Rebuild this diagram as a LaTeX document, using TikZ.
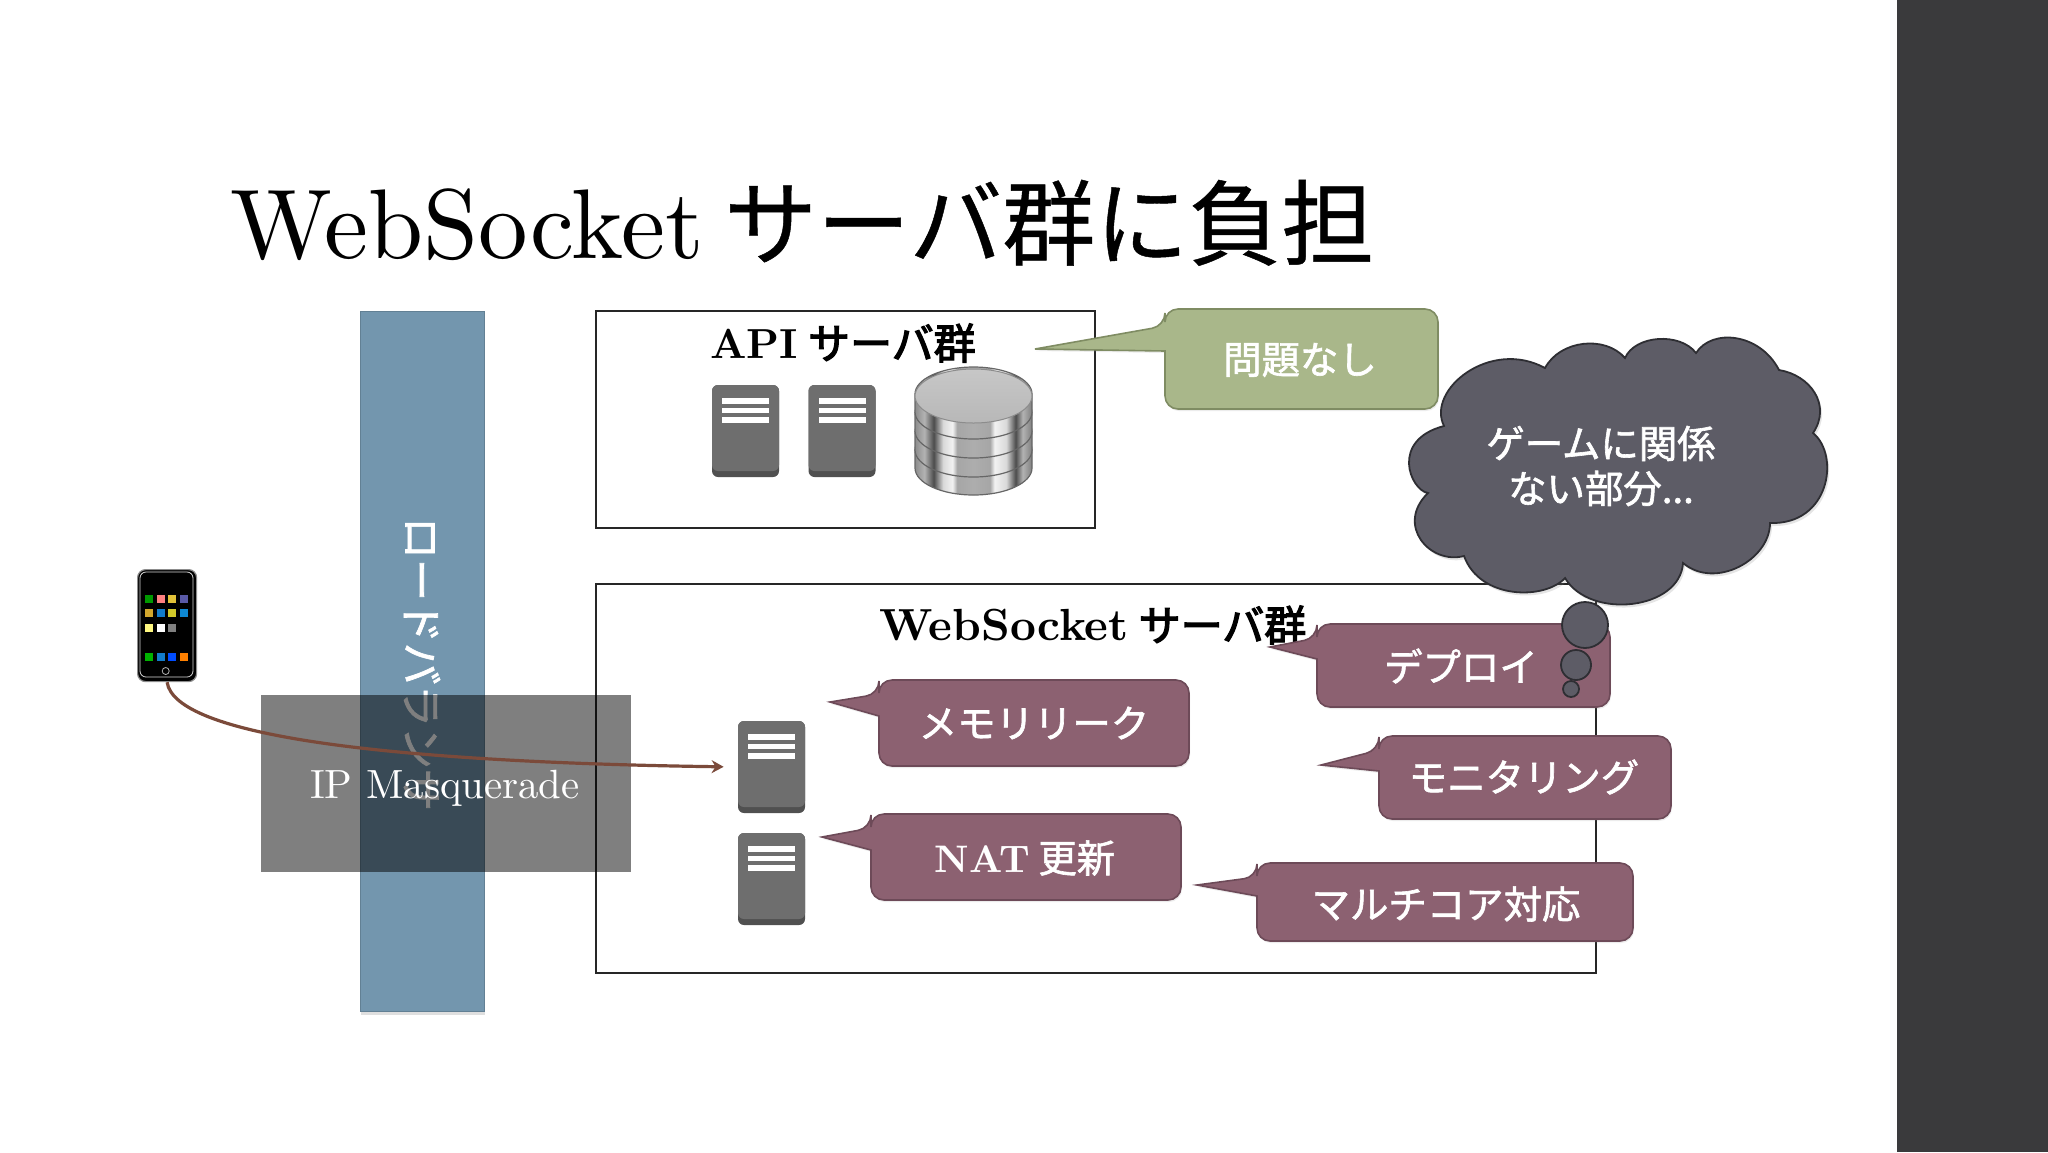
\documentclass[tikz,border=0pt]{standalone}
\usepackage{fontspec}
\usetikzlibrary{arrows.meta,shadows,calc}
\newfontfamily\jpt{Noto Sans CJK JP}[FakeBold=0.5]
\newfontfamily\jp{Noto Sans CJK JP}[FakeBold=1.6]
\newfontfamily\jph{Noto Sans CJK JP}[FakeBold=3]
\newfontfamily\lmten{lmroman10-regular.otf}
\newfontfamily\lmbold{lmroman10-bold.otf}

\definecolor{band}{HTML}{3A3A3C}
\definecolor{lbblue}{HTML}{7396AE}
\definecolor{plum}{HTML}{8C6171}
\definecolor{plumline}{HTML}{6D4A58}
\definecolor{sage}{HTML}{A9B78A}
\definecolor{sageline}{HTML}{7F8C63}
\definecolor{cloudfill}{HTML}{5D5C66}
\definecolor{cloudline}{HTML}{2E2E33}
\definecolor{srvtop}{HTML}{6E6E6E}
\definecolor{srvbot}{HTML}{505050}
\definecolor{wire}{HTML}{7B4A3A}

\pgfdeclarehorizontalshading{dbside}{100bp}{
  rgb(0bp)=(0.55,0.55,0.55);
  rgb(25bp)=(0.55,0.55,0.55);
  rgb(29bp)=(0.70,0.70,0.70);
  rgb(33bp)=(0.30,0.30,0.30);
  rgb(37bp)=(0.85,0.85,0.85);
  rgb(41bp)=(0.95,0.95,0.95);
  rgb(43bp)=(0.65,0.65,0.65);
  rgb(50bp)=(0.68,0.68,0.68);
  rgb(57bp)=(0.65,0.65,0.65);
  rgb(59bp)=(0.95,0.95,0.95);
  rgb(64bp)=(0.85,0.85,0.85);
  rgb(68bp)=(0.30,0.30,0.30);
  rgb(71bp)=(0.70,0.70,0.70);
  rgb(75bp)=(0.50,0.50,0.50);
  rgb(100bp)=(0.50,0.50,0.50)}

% server icon: name, centre x, centre y
\newcommand{\srvicon}[3]{
  \node[srv] (#1) at (#2,#3) {};
  \begin{scope}[shift={(#2,#3)}]
    \fill[srvtop,rounded corners=3pt] (-33.5,-46) rectangle (33.5,40);
    \fill[white] (-23.5,-33) rectangle (23.5,-27);
    \fill[white] (-23.5,-23) rectangle (23.5,-18);
    \fill[white] (-23.5,-14) rectangle (23.5,-8);
  \end{scope}
}

\begin{document}
\begin{tikzpicture}[x=0.5pt,y=-0.5pt,
    every node/.style={inner sep=0pt},
    srv/.style={rectangle,fill=srvbot,rounded corners=3pt,minimum width=33.5pt,minimum height=46pt},
    box/.style={rectangle,draw=black!85,line width=0.9pt,fill=white,anchor=north west},
    head/.style={font=\fontsize{21}{25}\selectfont\lmbold,black},
    label/.style={font=\fontsize{19.2}{23}\selectfont\jp,white,align=center},
    call/.style={fill=plum,draw=plumline,line width=0.8pt,drop shadow={shadow xshift=0.5pt,shadow yshift=-1pt,opacity=0.15}},
    callg/.style={fill=sage,draw=sageline,line width=0.8pt,drop shadow={shadow xshift=0.5pt,shadow yshift=-1pt,opacity=0.15}},
    puff/.style={circle,fill=cloudfill,draw=cloudline,line width=0.9pt}]

  \useasboundingbox (0,0) rectangle (2048,1152);
  \fill[white] (0,0) rectangle (2048,1152);
  \fill[band] (1897,0) rectangle (2048,1152);

  % title
  \node[anchor=base west,font=\fontsize{49.5}{56}\selectfont\lmten] (title) at (230,258)
    {WebSocket\hspace{10.4pt}{\fontsize{46.5}{56}\selectfont\jpt サーバ群に負担}};

  % load balancer
  \node[rectangle,fill=lbblue,draw=lbblue!85!black,line width=0.5pt,anchor=north west,
    minimum width=62pt,minimum height=350pt,
    drop shadow={shadow xshift=0pt,shadow yshift=-1.5pt,opacity=0.25}] (lb) at (360,311) {};
  \node[font=\fontsize{21}{25}\selectfont\jp,white,rotate=-90] (lbtext) at (422,664) {ロードバランサ};

  % API servers
  \node[box,minimum width=249.5pt,minimum height=108.5pt] (api) at (595,310) {};
  \node[head] (apitext) at (843,343) {API\hspace{5pt}{\jph サーバ群}};
  \srvicon{a1}{745.5}{431}
  \srvicon{a2}{842}{431}

  % database
  \foreach \b in {495,477,458,439}{
    \path[shading=dbside,draw=black!60,line width=0.6pt]
      (915,\b-45) -- (915,\b-27) arc[start angle=180,end angle=0,x radius=58.5,y radius=27]
      -- (1032,\b-45) arc[start angle=0,end angle=-180,x radius=58.5,y radius=27] -- cycle;
  }
  \draw[black!45,line width=0.5pt,top color=black!22,middle color=black!8,bottom color=black!28]
    (973.5,396) ellipse[x radius=58.5,y radius=27];

  % websocket servers
  \node[box,minimum width=500pt,minimum height=194.5pt] (ws) at (595,583) {};
  \node[head] (wstext) at (1093,625) {{\fontsize{22.5}{25}\selectfont WebSocket}\hspace{5pt}{\jph サーバ群}};
  \srvicon{w1}{771.5}{767}
  \srvicon{w2}{771.5}{879}

  % callouts
  \draw[callg,rounded corners=6.5pt] (1165,326) [sharp corners] -- (1035,349) -- (1165,351) [rounded corners=6.5pt]
    -- (1165,409) -- (1438,409) -- (1438,309) -- (1165,309) -- cycle;
  \node[label] (ok) at (1300,360) {問題なし};

  \draw[call,rounded corners=6.5pt] (879,694) [sharp corners] -- (830,702) -- (879,716) [rounded corners=6.5pt]
    -- (879,766) -- (1189,766) -- (1189,680) -- (879,680) -- cycle;
  \node[label] (mem) at (1034,723) {メモリリーク};

  \draw[call,rounded corners=6.5pt] (871,828) [sharp corners] -- (822,837) -- (871,850) [rounded corners=6.5pt]
    -- (871,900) -- (1181,900) -- (1181,814) -- (871,814) -- cycle;
  \node[label] (nat) at (1025,858) {{\lmbold NAT} 更新};

  \draw[call,rounded corners=6.5pt] (1317,638) [sharp corners] -- (1270,647) -- (1317,659) [rounded corners=6.5pt]
    -- (1317,707) -- (1610,707) -- (1610,624) -- (1317,624) -- cycle;
  \node[label] (dep) at (1461,666) {デプロイ};

  \draw[call,rounded corners=6.5pt] (1379,750) [sharp corners] -- (1321,765) -- (1379,771) [rounded corners=6.5pt]
    -- (1379,819) -- (1671,819) -- (1671,736) -- (1379,736) -- cycle;
  \node[label] (mon) at (1524,777) {モニタリング};

  \draw[call,rounded corners=6.5pt] (1257,877) [sharp corners] -- (1197,885) -- (1257,896) [rounded corners=6.5pt]
    -- (1257,941) -- (1633,941) -- (1633,863) -- (1257,863) -- cycle;
  \node[label] (core) at (1446,904) {マルチコア対応};

  % cloud
  \draw[fill=cloudfill,draw=cloudline,line width=0.9pt,
      drop shadow={shadow xshift=1pt,shadow yshift=-1.5pt,opacity=0.2}]
    (1545,368) .. controls (1560,340) and (1605,335) .. (1625,358)
    .. controls (1635,335) and (1680,332) .. (1696,353)
    .. controls (1712,328) and (1760,333) .. (1779,370)
    .. controls (1810,375) and (1832,405) .. (1813,433)
    .. controls (1840,455) and (1830,525) .. (1770,523)
    .. controls (1770,560) and (1715,590) .. (1683,563)
    .. controls (1680,610) and (1590,620) .. (1565,578)
    .. controls (1545,600) and (1480,600) .. (1464,556)
    .. controls (1430,565) and (1395,525) .. (1428,493)
    .. controls (1410,490) and (1390,440) .. (1444,426)
    .. controls (1426,390) and (1490,338) .. (1545,368) -- cycle;
  \node[label,font=\fontsize{19.2}{22.5}\selectfont\jp] (cloudtext) at (1601,466) {ゲームに関係\\ない部分...};
  \node[puff,minimum size=23pt] (p1) at (1585,625) {};
  \node[puff,minimum size=15pt] (p2) at (1576,665) {};
  \node[puff,minimum size=8pt] (p3) at (1571,689) {};

  % masquerade overlay
  \node[rectangle,fill=black,fill opacity=0.5,anchor=north west,
    minimum width=185pt,minimum height=88.5pt] (nat0) at (261,695) {};
  \node[font=\fontsize{20.4}{24}\selectfont\lmten,white] (nattext) at (445,788) {IP Masquerade};

  % phone
  \node[rectangle,rounded corners=4pt,fill=black,draw=black!45,line width=0.6pt,
    minimum width=29.5pt,minimum height=56pt,anchor=north west] (phone) at (137,569) {};
  \draw[white!85!black,line width=0.4pt,rounded corners=3pt] (140,572) rectangle (193,677);
  \foreach \px/\py/\pc in {149/599/green!60!black,160.7/599/red!50!white,172.3/599/yellow!50!brown,184/599/blue!30!gray,
      149/613/brown!70!yellow,160.7/613/cyan!60!blue,172.3/613/yellow!80!black,184/613/cyan!70!blue,
      149/628/yellow!50!white,160.7/628/white,172.3/628/gray,
      149/657/green!70!black,160.7/657/cyan!60!blue,172.3/657/blue!70!cyan,184/657/orange}{
    \fill[\pc] (\px-4,\py-4) rectangle (\px+4,\py+4);
  }
  \draw[white!70!black,line width=0.4pt] (165.7,671) circle[radius=3.5];

  % connection
  \draw[wire,line width=1.6pt,-{Stealth[length=6pt,width=6.5pt]},shorten >=7pt]
    (phone.south) .. controls (175,735) and (380,762) .. (w1.west);
\end{tikzpicture}
\end{document}
